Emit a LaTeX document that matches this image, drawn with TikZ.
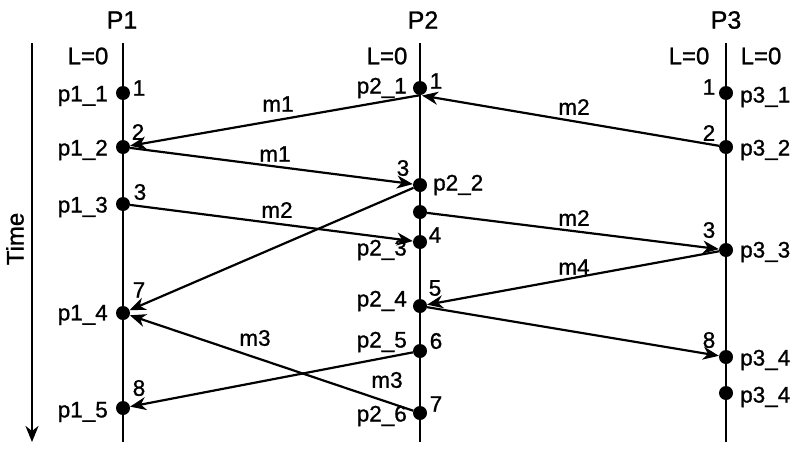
\documentclass[tikz,border=0pt]{standalone}
\usepackage{fontspec}
\setmainfont[FakeBold=1]{Liberation Sans}
\usetikzlibrary{arrows.meta}
\begin{document}
\begin{tikzpicture}[x=1pt,y=-1pt,
  lbl/.style={inner sep=0pt, font=\fontsize{22.5}{26}\selectfont},
  big/.style={inner sep=0pt, font=\fontsize{24}{28}\selectfont},
  ttl/.style={inner sep=0pt, font=\fontsize{25}{30}\selectfont},
  ev/.style={circle, fill=black, inner sep=0pt, minimum size=14pt},
  proc/.style={line width=2.4pt},
  tip/.style={-{Stealth[length=16pt,width=13pt,inset=5pt]}},
  msg/.style={line width=2.2pt, tip}]
\fill[white] (0,0) rectangle (800,450);
\useasboundingbox (0,0) rectangle (800,450);
% titles
\node[ttl] (t1) at (122,20) {P1};
\node[ttl] (t2) at (423,20) {P2};
\node[ttl] (t3) at (726,20) {P3};
% time axis
\coordinate (ta) at (32,43);
\coordinate (tb) at (32,442);
\draw[proc, tip] (ta) -- (tb);
\node[big, rotate=90] (time) at (15,239) {Time};
% process lines
\coordinate (a1) at (123,43); \coordinate (b1) at (123,442);
\coordinate (a2) at (420,43); \coordinate (b2) at (420,442);
\coordinate (a3) at (726,43); \coordinate (b3) at (726,442);
\draw[proc] (a1) -- (b1);
\draw[proc] (a2) -- (b2);
\draw[proc] (a3) -- (b3);
% L=0 labels
\node[big] (l1) at (88,56) {L=0};
\node[big] (l2) at (387,56) {L=0};
\node[big] (l3a) at (689,56) {L=0};
\node[big] (l3b) at (761,56) {L=0};
% events P1
\node[ev] (p11) at (123,93) {};
\node[ev] (p12) at (123,147) {};
\node[ev] (p13) at (123,204) {};
\node[ev] (p14) at (123,313) {};
\node[ev] (p15) at (123,408) {};
% events P2
\node[ev] (p21) at (420,88) {};
\node[ev] (p22) at (420,185) {};
\node[ev] (p2x) at (420,212) {};
\node[ev] (p23) at (420,242) {};
\node[ev] (p24) at (420,306) {};
\node[ev] (p25) at (420,351) {};
\node[ev] (p26) at (420,413) {};
% events P3
\node[ev] (p31) at (726,93) {};
\node[ev] (p32) at (726,147) {};
\node[ev] (p33) at (726,250) {};
\node[ev] (p34) at (726,357) {};
\node[ev] (p35) at (726,393) {};
% event labels
\node[lbl, anchor=east] (n11) at (108,96) {p1\_1};
\node[lbl, anchor=east] (n12) at (108,150) {p1\_2};
\node[lbl, anchor=east] (n13) at (108,207) {p1\_3};
\node[lbl, anchor=east] (n14) at (108,315) {p1\_4};
\node[lbl, anchor=east] (n15) at (108,412) {p1\_5};
\node[lbl, anchor=east] (n21) at (407,88) {p2\_1};
\node[lbl, anchor=west] (n22) at (433,185) {p2\_2};
\node[lbl, anchor=east] (n23) at (407,250) {p2\_3};
\node[lbl, anchor=east] (n24) at (407,301) {p2\_4};
\node[lbl, anchor=east] (n25) at (407,342) {p2\_5};
\node[lbl, anchor=east] (n26) at (407,416) {p2\_6};
\node[lbl, anchor=west] (n31) at (740,97) {p3\_1};
\node[lbl, anchor=west] (n32) at (740,150) {p3\_2};
\node[lbl, anchor=west] (n33) at (740,252) {p3\_3};
\node[lbl, anchor=west] (n34) at (740,360) {p3\_4};
\node[lbl, anchor=west] (n35) at (740,397) {p3\_4};
% clock numbers
\node[lbl] (c11) at (139,88) {1};
\node[lbl] (c12) at (138,132) {2};
\node[lbl] (c13) at (140,192) {3};
\node[lbl] (c14) at (139,290) {7};
\node[lbl] (c15) at (139,388) {8};
\node[lbl] (c21) at (436,81) {1};
\node[lbl] (c22) at (403,168) {3};
\node[lbl] (c23) at (435,235) {4};
\node[lbl] (c24) at (435,288) {5};
\node[lbl] (c25) at (436,341) {6};
\node[lbl] (c26) at (436,404) {7};
\node[lbl] (c31) at (709,87) {1};
\node[lbl] (c32) at (709,133) {2};
\node[lbl] (c33) at (709,230) {3};
\node[lbl] (c34) at (709,340) {8};
% messages
\draw[msg] (p21.south) -- (p12);
\draw[msg] (p12) -- (p22);
\draw[msg, shorten >=2pt] (p32) -- (p21.south);
\draw[msg] (p13) -- (p23);
\draw[msg] (p2x) -- (p33);
\draw[msg] (p22) -- (p14);
\draw[msg] (p33) -- (p24);
\draw[msg] (p24) -- (p34);
\draw[msg] (p26) -- (p14);
\draw[msg] (p25) -- (p15);
% message labels
\node[lbl] (m1a) at (278,104) {m1};
\node[lbl] (m1b) at (275,154) {m1};
\node[lbl] (m2a) at (277,210) {m2};
\node[lbl] (m2b) at (574,107) {m2};
\node[lbl] (m2c) at (574,218) {m2};
\node[lbl] (m4) at (574,267) {m4};
\node[lbl] (m3a) at (255,338) {m3};
\node[lbl] (m3b) at (387,380) {m3};
\end{tikzpicture}
\end{document}
